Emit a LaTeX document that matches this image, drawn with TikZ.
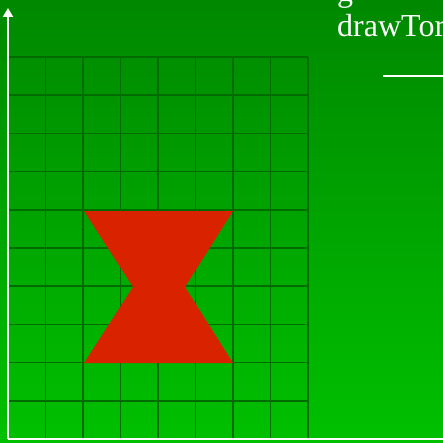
\documentclass[tikz,border=0pt]{standalone}
\usepackage{fontspec}
\setmainfont{Liberation Serif}
\usetikzlibrary{arrows.meta}

\definecolor{bgtop}{RGB}{0,136,0}
\definecolor{bgbottom}{RGB}{0,192,0}
\definecolor{gridgreen}{RGB}{0,108,0}
\definecolor{shapered}{RGB}{217,34,0}

\begin{document}
\begin{tikzpicture}[
  x=1pt, y=-1pt,
  gridline/.style={draw=gridgreen, line width=1.7pt},
  axis/.style={draw=white, line width=2.4pt},
  label/.style={text=white, font=\fontsize{32}{36}\selectfont, inner sep=0pt, anchor=base west}
]

\useasboundingbox (0,0) rectangle (443,443);
\clip (0,0) rectangle (443,443);
\shade[top color=bgtop, bottom color=bgbottom] (0,0) rectangle (443,443);

% grid
\foreach \gx in {8,45.5,83,120.5,158,195.5,233,270.5,308}
  \draw[gridline] (\gx,57) -- (\gx,439);
\foreach \gy in {57,95.2,133.4,171.6,209.8,248,286.2,324.4,362.6,400.8}
  \draw[gridline] (8,\gy) -- (308,\gy);

% hourglass
\fill[shapered] (84,211) -- (233,211) -- (185,287) -- (233,363)
  -- (84,363) -- (133,287) -- cycle;

% axes
\coordinate (origin) at (8,439);
\coordinate (ytop) at (8,8);
\coordinate (xend) at (445,439);
\draw[axis, -{Triangle[width=10pt,length=9pt]}] (origin) -- (ytop);
\draw[axis] (origin) -- (xend);

% text
\node[label] (prev) at (337,2) {g};
\node[label] (name) at (337,37) {drawTor};
\coordinate (ruleL) at (383,76);
\coordinate (ruleR) at (445,76);
\draw[white, line width=1.5pt] (ruleL) -- (ruleR);

\end{tikzpicture}
\end{document}
